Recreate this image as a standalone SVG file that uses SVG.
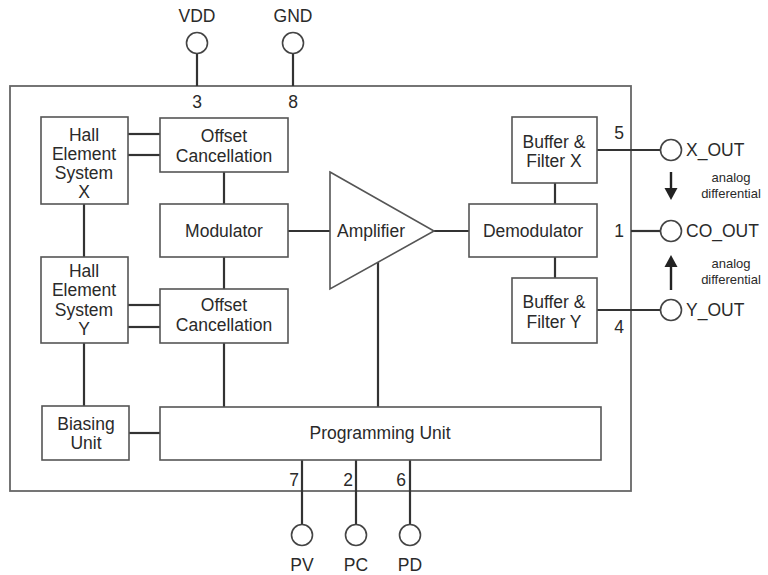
<svg xmlns="http://www.w3.org/2000/svg" width="768" height="575" viewBox="0 0 768 575">
<defs>
<style>
text{font-family:"Liberation Sans",Arial,sans-serif;font-size:17.5px;fill:#2a2a2a;text-anchor:middle;dominant-baseline:central}
.box{fill:#fff;stroke:#555;stroke-width:1.6}
.w{stroke:#333;stroke-width:2.2;fill:none}
.pin{fill:#fff;stroke:#444;stroke-width:1.6}
.sm{font-size:13px}
.st{text-anchor:start}
</style>
</defs>
<rect width="768" height="575" fill="#fff"/>
<rect id="chip" x="10" y="86" width="621" height="405" fill="none" stroke="#666" stroke-width="1.8"/>

<g id="connectors">
<line class="w" x1="197" y1="53" x2="197" y2="86"/>
<line class="w" x1="293" y1="53" x2="293" y2="86"/>
<line class="w" x1="128" y1="134" x2="160" y2="134"/>
<line class="w" x1="128" y1="155" x2="160" y2="155"/>
<line class="w" x1="224" y1="172" x2="224" y2="204"/>
<line class="w" x1="84" y1="204" x2="84" y2="257"/>
<line class="w" x1="224" y1="257" x2="224" y2="289"/>
<line class="w" x1="128" y1="305" x2="160" y2="305"/>
<line class="w" x1="128" y1="327" x2="160" y2="327"/>
<line class="w" x1="224" y1="343" x2="224" y2="407"/>
<line class="w" x1="84" y1="343" x2="84" y2="406"/>
<line class="w" x1="288" y1="231" x2="330" y2="231"/>
<line class="w" x1="378" y1="262" x2="378" y2="407"/>
<line class="w" x1="434" y1="231" x2="469" y2="231"/>
<line class="w" x1="555" y1="183" x2="555" y2="204"/>
<line class="w" x1="555" y1="257" x2="555" y2="278"/>
<line class="w" x1="129" y1="433" x2="160" y2="433"/>
<line class="w" x1="597" y1="150" x2="661" y2="150"/>
<line class="w" x1="631" y1="231" x2="661" y2="231"/>
<line class="w" x1="597" y1="310" x2="661" y2="310"/>
<line class="w" x1="302" y1="460" x2="302" y2="524"/>
<line class="w" x1="356" y1="460" x2="356" y2="524"/>
<line class="w" x1="410" y1="460" x2="410" y2="524"/>
<line stroke="#222" stroke-width="2.4" x1="671" y1="172" x2="671" y2="190"/>
<polygon points="664.5,188 677.5,188 671,200" fill="#222"/>
<line stroke="#222" stroke-width="2.4" x1="671" y1="290" x2="671" y2="265"/>
<polygon points="664.5,267 677.5,267 671,255" fill="#222"/>
</g>

<g id="pin-vdd"><circle class="pin" cx="197" cy="43" r="10.5"/><text x="197" y="16">VDD</text><text x="197" y="102">3</text></g>
<g id="pin-gnd"><circle class="pin" cx="293" cy="43" r="10.5"/><text x="293" y="16">GND</text><text x="293" y="102">8</text></g>

<g id="hall-x"><rect class="box" x="41" y="117" width="87" height="87"/><text x="84" y="135">Hall</text><text x="84" y="154">Element</text><text x="84" y="173">System</text><text x="84" y="192">X</text></g>
<g id="offset-x"><rect class="box" x="160" y="118" width="128" height="54"/><text x="224" y="136">Offset</text><text x="224" y="156">Cancellation</text></g>
<g id="modulator"><rect class="box" x="160" y="204" width="128" height="53"/><text x="224" y="231">Modulator</text></g>
<g id="hall-y"><rect class="box" x="41" y="257" width="87" height="86"/><text x="84" y="271">Hall</text><text x="84" y="290">Element</text><text x="84" y="310">System</text><text x="84" y="329">Y</text></g>
<g id="offset-y"><rect class="box" x="160" y="289" width="128" height="54"/><text x="224" y="305">Offset</text><text x="224" y="325">Cancellation</text></g>
<g id="amplifier"><polygon class="box" points="330,172 434,231 330,289"/><text x="371" y="231">Amplifier</text></g>
<g id="demodulator"><rect class="box" x="469" y="204" width="128" height="53"/><text x="533" y="231">Demodulator</text></g>
<g id="buffer-x"><rect class="box" x="512" y="117" width="85" height="66"/><text x="554" y="142">Buffer &amp;</text><text x="554" y="161">Filter X</text></g>
<g id="buffer-y"><rect class="box" x="512" y="278" width="85" height="65"/><text x="554" y="302">Buffer &amp;</text><text x="554" y="322">Filter Y</text></g>
<g id="biasing"><rect class="box" x="42" y="406" width="87" height="54"/><text x="86" y="424">Biasing</text><text x="86" y="443">Unit</text></g>
<g id="programming"><rect class="box" x="160" y="407" width="441" height="53"/><text x="380" y="433">Programming Unit</text></g>

<g id="pin-xout"><circle class="pin" cx="671" cy="150" r="10.5"/><text x="619" y="133">5</text><text x="686" y="150" class="st">X_OUT</text></g>
<g id="pin-coout"><circle class="pin" cx="671" cy="231" r="10.5"/><text x="619" y="231">1</text><text x="686" y="231" class="st">CO_OUT</text></g>
<g id="pin-yout"><circle class="pin" cx="671" cy="310" r="10.5"/><text x="619" y="327">4</text><text x="686" y="310" class="st">Y_OUT</text></g>
<g id="note-1"><text class="sm" x="731" y="177">analog</text><text class="sm" x="731" y="193">differential</text></g>
<g id="note-2"><text class="sm" x="731" y="263">analog</text><text class="sm" x="731" y="279">differential</text></g>

<g id="pin-pv"><circle class="pin" cx="302" cy="535" r="10.5"/><text x="294" y="480">7</text><text x="302" y="565">PV</text></g>
<g id="pin-pc"><circle class="pin" cx="356" cy="535" r="10.5"/><text x="348" y="480">2</text><text x="356" y="565">PC</text></g>
<g id="pin-pd"><circle class="pin" cx="410" cy="535" r="10.5"/><text x="401" y="480">6</text><text x="410" y="565">PD</text></g>
</svg>
